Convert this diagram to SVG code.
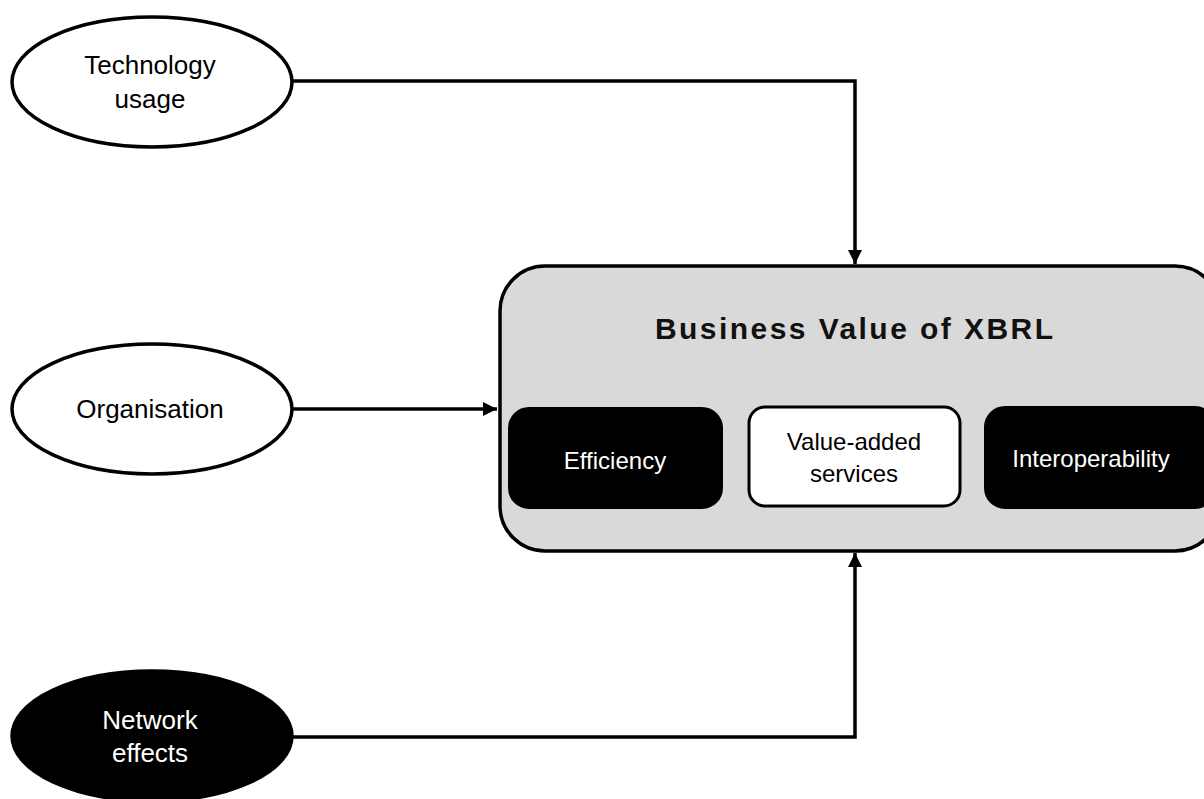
<svg xmlns="http://www.w3.org/2000/svg" width="1204" height="799" viewBox="0 0 1204 799">
<defs>
<style>
.ell{stroke:#000;stroke-width:3.5}
.lbl{font-family:"Liberation Sans",Arial,sans-serif;font-size:26px;text-anchor:middle;dominant-baseline:central}
.in{font-family:"Liberation Sans",Arial,sans-serif;font-size:24px;text-anchor:middle;dominant-baseline:central}
.conn{fill:none;stroke:#000;stroke-width:3.5}
</style>
<marker id="arr" viewBox="0 0 10 10" refX="10" refY="5" markerWidth="4" markerHeight="4" orient="auto" markerUnits="strokeWidth">
<path d="M0,0 L10,5 L0,10 z" fill="#000"/>
</marker>
</defs>
<rect width="1204" height="799" fill="#fff"/>
<g id="connectors">
<path class="conn" d="M292,81 H855 V264" marker-end="url(#arr)"/>
<path class="conn" d="M292,409 H497" marker-end="url(#arr)"/>
<path class="conn" d="M292,737 H855 V553" marker-end="url(#arr)"/>
</g>
<g id="technology">
<ellipse class="ell" cx="152" cy="82" rx="140" ry="65" fill="#fff"/>
<text class="lbl" x="150" y="65">Technology</text>
<text class="lbl" x="150" y="99">usage</text>
</g>
<g id="organisation">
<ellipse class="ell" cx="152" cy="409" rx="140" ry="65" fill="#fff"/>
<text class="lbl" x="150" y="409">Organisation</text>
</g>
<g id="network">
<ellipse class="ell" cx="152" cy="736" rx="140" ry="65" fill="#000"/>
<text class="lbl" x="150" y="720" fill="#fff">Network</text>
<text class="lbl" x="150" y="753" fill="#fff">effects</text>
</g>
<g id="business-value">
<rect x="500" y="266" width="720" height="285" rx="45" ry="45" fill="#d9d9d9" stroke="#000" stroke-width="3.5"/>
<text x="854" y="328" font-family="Liberation Sans,Arial,sans-serif" font-size="30" font-weight="bold" text-anchor="middle" dominant-baseline="central" textLength="398" lengthAdjust="spacing" fill="#111">Business Value of XBRL</text>
</g>
<g id="efficiency">
<rect x="509" y="408" width="213" height="100" rx="20" fill="#000" stroke="#000" stroke-width="2"/>
<text class="in" x="615" y="460" fill="#fff">Efficiency</text>
</g>
<g id="value-added">
<rect x="749" y="407" width="211" height="99" rx="16" fill="#fff" stroke="#000" stroke-width="3"/>
<text class="in" x="854" y="441">Value-added</text>
<text class="in" x="854" y="473">services</text>
</g>
<g id="interoperability">
<rect x="985" y="407" width="230" height="101" rx="20" fill="#000" stroke="#000" stroke-width="2"/>
<text class="in" x="1091" y="458" fill="#fff">Interoperability</text>
</g>
</svg>
